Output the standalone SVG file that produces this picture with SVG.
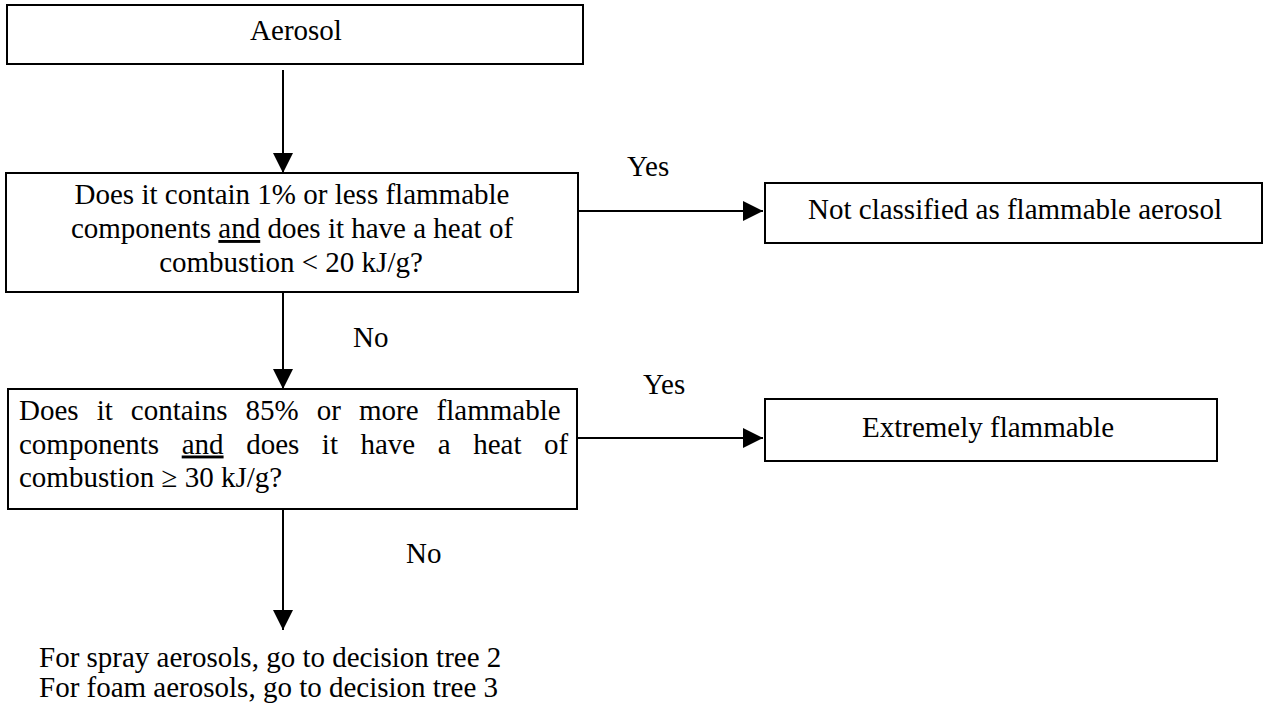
<svg xmlns="http://www.w3.org/2000/svg" width="1263" height="717" viewBox="0 0 1263 717">
<style>
.box{fill:#fff;stroke:#000;stroke-width:2}
.t{font-family:"Liberation Serif","Times New Roman",serif;font-size:29px;fill:#000}
.c{text-anchor:middle}
.ln{fill:none;stroke:#000;stroke-width:2;marker-end:url(#ah)}
</style>
<defs>
<marker id="ah" viewBox="0 0 20 20" refX="20" refY="10" markerWidth="20" markerHeight="21" markerUnits="userSpaceOnUse" orient="auto">
<path d="M0,0 L20,10 L0,20 Z" fill="#000"/>
</marker>
</defs>
<rect width="1263" height="717" fill="#fff"/>
<g id="connectors">
<path class="ln" d="M283,70 L283,173"/>
<path class="ln" d="M578,211 L763,211"/>
<path class="ln" d="M283,292 L283,389"/>
<path class="ln" d="M577,438 L763,438"/>
<path class="ln" d="M283,509 L283,630"/>
<text class="t" x="627" y="176">Yes</text>
<text class="t" x="353" y="347">No</text>
<text class="t" x="643" y="394">Yes</text>
<text class="t" x="406" y="563">No</text>
</g>
<g id="aerosol">
<rect class="box" x="7" y="5" width="576" height="59"/>
<text class="t c" x="296" y="40">Aerosol</text>
</g>
<g id="q1">
<rect class="box" x="6" y="173" width="572" height="119"/>
<text class="t c" x="292" y="204">Does it contain 1% or less flammable</text>
<text class="t c" x="292" y="238">components <tspan text-decoration="underline">and</tspan> does it have a heat of</text>
<text class="t c" x="291" y="272">combustion &lt; 20 kJ/g?</text>
</g>
<g id="notclassified">
<rect class="box" x="765" y="183" width="497" height="60"/>
<text class="t c" x="1015" y="219">Not classified as flammable aerosol</text>
</g>
<g id="q2">
<rect class="box" x="8" y="389" width="569" height="120"/>
<text class="t" x="19" y="420" word-spacing="10.8">Does it contains 85% or more flammable</text>
<text class="t" x="19" y="453.5" word-spacing="15.3">components <tspan text-decoration="underline">and</tspan> does it have a heat of</text>
<text class="t" x="19" y="487">combustion ≥ 30 kJ/g?</text>
</g>
<g id="extremely">
<rect class="box" x="765" y="399" width="452" height="62"/>
<text class="t c" x="988" y="437">Extremely flammable</text>
</g>
<g id="footer">
<text class="t" x="39" y="667">For spray aerosols, go to decision tree 2</text>
<text class="t" x="39" y="697">For foam aerosols, go to decision tree 3</text>
</g>
</svg>
